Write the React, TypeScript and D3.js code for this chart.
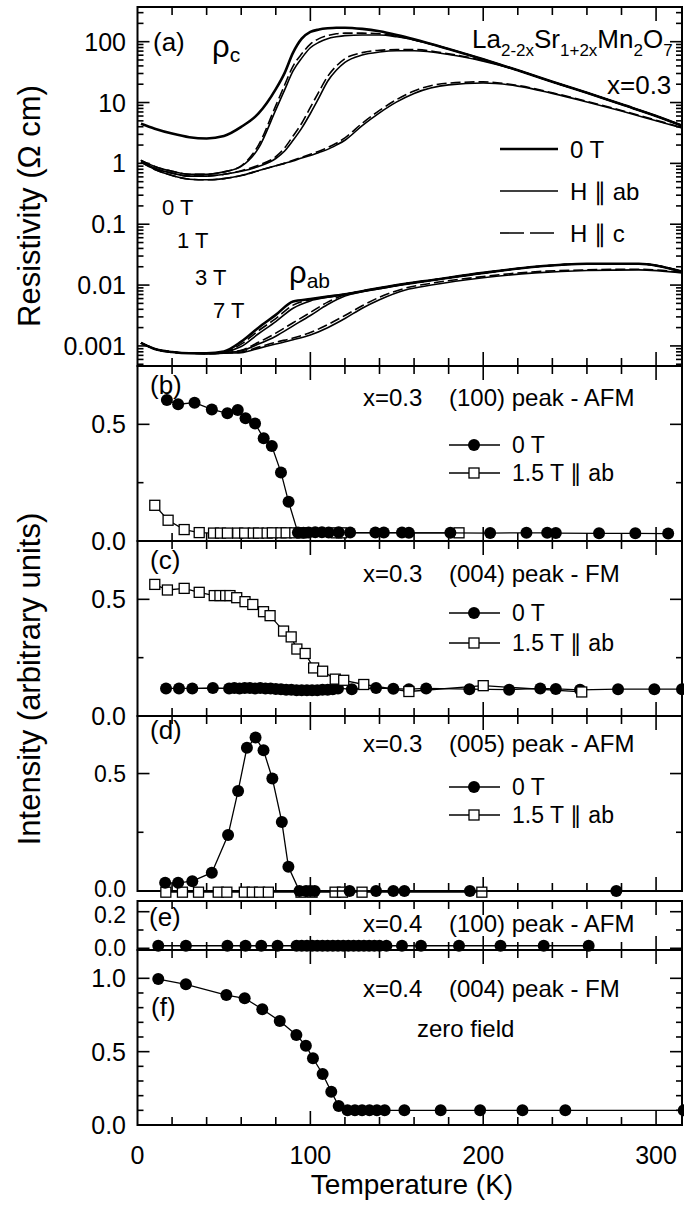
import React from "react";
import * as d3 from "d3";

// ---- data ----
// resistivity, rho_c, values are log10(rho / Ohm cm)
const tRhoC = [2, 10, 20, 30, 40, 50, 60, 70, 80, 85, 90, 95, 100, 105, 110, 115, 120, 130, 140, 150, 160, 180, 200, 220, 240, 260, 280, 300, 315];
const rhoC0T = [0.65, 0.57, 0.49, 0.43, 0.41, 0.45, 0.6, 0.82, 1.22, 1.48, 1.82, 2.05, 2.16, 2.2, 2.22, 2.23, 2.23, 2.21, 2.17, 2.11, 2.04, 1.88, 1.71, 1.53, 1.34, 1.16, 0.97, 0.78, 0.62];
const rhoC1Tab = [0.05, -0.05, -0.13, -0.18, -0.18, -0.14, -0.05, 0.25, 0.88, 1.2, 1.52, 1.73, 1.9, 1.99, 2.05, 2.08, 2.1, 2.11, 2.11, 2.08, 2.03, 1.88, 1.71, 1.53, 1.34, 1.16, 0.97, 0.78, 0.62];
const rhoC1Tc = [0.05, -0.05, -0.13, -0.18, -0.18, -0.14, -0.04, 0.3, 0.95, 1.28, 1.6, 1.8, 1.96, 2.05, 2.1, 2.13, 2.14, 2.14, 2.13, 2.09, 2.03, 1.88, 1.71, 1.53, 1.34, 1.16, 0.97, 0.78, 0.62];
const rhoC3Tab = [0.05, -0.08, -0.16, -0.21, -0.21, -0.18, -0.13, -0.05, 0.08, 0.2, 0.38, 0.58, 0.82, 1.08, 1.35, 1.53, 1.66, 1.78, 1.83, 1.85, 1.85, 1.79, 1.68, 1.53, 1.34, 1.16, 0.97, 0.78, 0.62];
const rhoC3Tc = [0.05, -0.08, -0.16, -0.21, -0.21, -0.18, -0.12, -0.03, 0.11, 0.25, 0.45, 0.66, 0.92, 1.18, 1.43, 1.6, 1.72, 1.82, 1.86, 1.87, 1.87, 1.8, 1.69, 1.53, 1.34, 1.16, 0.97, 0.78, 0.62];
const rhoC7Tab = [0.02, -0.1, -0.2, -0.26, -0.27, -0.25, -0.2, -0.12, -0.04, 0, 0.04, 0.09, 0.13, 0.18, 0.23, 0.3, 0.38, 0.62, 0.83, 1.01, 1.15, 1.29, 1.32, 1.27, 1.15, 1.01, 0.86, 0.7, 0.58];
const rhoC7Tc = [0.02, -0.1, -0.2, -0.26, -0.27, -0.25, -0.2, -0.12, -0.04, 0, 0.05, 0.1, 0.15, 0.2, 0.26, 0.33, 0.42, 0.66, 0.87, 1.05, 1.19, 1.32, 1.34, 1.28, 1.16, 1.02, 0.87, 0.71, 0.59];

// resistivity, rho_ab, log10(rho / Ohm cm)
const tRhoAb = [2, 10, 20, 30, 40, 50, 60, 70, 80, 90, 100, 110, 120, 130, 140, 155, 170, 200, 230, 260, 290, 315];
const rhoAb0T = [-2.95, -3.05, -3.1, -3.12, -3.12, -3.09, -2.93, -2.7, -2.49, -2.27, -2.23, -2.19, -2.15, -2.1, -2.05, -1.98, -1.92, -1.8, -1.7, -1.65, -1.65, -1.78];
const rhoAb1Tab = [-2.95, -3.05, -3.1, -3.12, -3.12, -3.1, -3.01, -2.8, -2.6, -2.38, -2.26, -2.2, -2.15, -2.1, -2.05, -1.98, -1.92, -1.8, -1.7, -1.65, -1.65, -1.78];
const rhoAb1Tc = [-2.95, -3.05, -3.1, -3.12, -3.12, -3.1, -2.97, -2.75, -2.55, -2.33, -2.24, -2.19, -2.15, -2.1, -2.05, -1.98, -1.92, -1.8, -1.7, -1.65, -1.65, -1.78];
const rhoAb3Tab = [-2.95, -3.05, -3.1, -3.12, -3.12, -3.11, -3.08, -2.97, -2.84, -2.67, -2.5, -2.32, -2.18, -2.11, -2.06, -1.98, -1.92, -1.8, -1.7, -1.65, -1.65, -1.78];
const rhoAb3Tc = [-2.95, -3.05, -3.1, -3.12, -3.12, -3.11, -3.07, -2.94, -2.79, -2.62, -2.45, -2.28, -2.16, -2.1, -2.05, -1.98, -1.92, -1.8, -1.7, -1.65, -1.65, -1.78];
const rhoAb7Tab = [-2.95, -3.05, -3.1, -3.12, -3.13, -3.12, -3.11, -3.04, -2.97, -2.9, -2.82, -2.7, -2.55, -2.38, -2.24, -2.08, -2.0, -1.88, -1.8, -1.76, -1.75, -1.8];
const rhoAb7Tc = [-2.95, -3.05, -3.1, -3.12, -3.13, -3.12, -3.1, -3.02, -2.94, -2.87, -2.78, -2.65, -2.5, -2.34, -2.2, -2.05, -1.97, -1.86, -1.78, -1.75, -1.74, -1.79];

// (b) x=0.3 (100) AFM
const tB0T = [17, 23.5, 33, 43, 52, 58, 62.5, 68, 73, 77.7, 83, 87.4, 92.8, 96, 99, 102.8, 106.7, 110.6, 116.4, 123, 137.6, 142.5, 153, 157, 181, 204, 225, 237, 242, 267, 288, 307];
const iB0T = [0.604, 0.586, 0.593, 0.564, 0.547, 0.561, 0.526, 0.504, 0.44, 0.407, 0.294, 0.168, 0.036, 0.035, 0.036, 0.037, 0.038, 0.036, 0.037, 0.036, 0.036, 0.036, 0.036, 0.035, 0.035, 0.034, 0.035, 0.035, 0.034, 0.033, 0.033, 0.032];
const tB15T = [10, 17.7, 27, 35.7, 44, 48, 52, 58, 62, 67, 70, 75, 78, 83, 86, 91, 95, 115, 118, 186];
const iB15T = [0.153, 0.089, 0.049, 0.036, 0.034, 0.034, 0.034, 0.034, 0.034, 0.034, 0.034, 0.034, 0.035, 0.035, 0.035, 0.035, 0.035, 0.035, 0.035, 0.035];

// (c) x=0.3 (004) FM
const tC0T = [16.5, 24, 31.7, 43.6, 53, 56, 59, 62, 65, 68, 71, 74, 77, 80, 83, 86, 89, 92, 95, 98, 101, 104, 107, 110, 113, 116, 124, 138, 148, 157, 167, 192, 215, 233, 242, 256, 278, 299, 315];
const iC0T = [0.118, 0.118, 0.118, 0.12, 0.118, 0.12, 0.118, 0.12, 0.12, 0.118, 0.12, 0.118, 0.118, 0.116, 0.115, 0.113, 0.112, 0.11, 0.11, 0.11, 0.11, 0.11, 0.112, 0.113, 0.115, 0.118, 0.115, 0.12, 0.117, 0.115, 0.118, 0.115, 0.113, 0.118, 0.116, 0.112, 0.115, 0.115, 0.115];
const tC15T = [10, 17.3, 27, 35.7, 44.4, 47.7, 51, 53.5, 57.4, 62.2, 66.7, 72.9, 76.7, 84.5, 88.9, 92.2, 97, 101.9, 107.1, 114.4, 119.3, 130.9, 157, 200, 257];
const iC15T = [0.564, 0.54, 0.547, 0.53, 0.516, 0.516, 0.516, 0.516, 0.507, 0.49, 0.478, 0.447, 0.43, 0.364, 0.339, 0.287, 0.268, 0.206, 0.192, 0.158, 0.153, 0.135, 0.105, 0.13, 0.103];

// (d) x=0.3 (005) AFM
const tD0T = [16, 23.5, 31.7, 43, 52.4, 58.2, 63.3, 68.3, 72.9, 78, 83.5, 87.3, 93.7, 97.5, 100, 102.5, 122.7, 138, 148, 154.4, 192.3, 277];
const iD0T = [0.035, 0.035, 0.042, 0.078, 0.238, 0.426, 0.61, 0.653, 0.599, 0.479, 0.294, 0.103, 0.0, 0.0, 0.0, 0.0, 0.0, 0.0, 0.0, 0.0, 0.0, 0.0];
const tD15T = [16.4, 26, 35.3, 46.7, 51.7, 61.8, 66.4, 70.6, 75.7, 94.6, 101, 114.3, 118.6, 129.9, 199.2];
const iD15T = [-0.005, -0.005, -0.005, -0.005, -0.005, -0.005, -0.005, -0.005, -0.005, -0.005, -0.005, -0.005, -0.005, -0.005, -0.005];

// (e) x=0.4 (100) AFM
const tE = [12, 28, 52, 62.5, 71.6, 81, 92, 95, 98, 101, 104, 107, 110, 113, 116, 119, 122, 125, 128, 131, 134, 137, 140, 144, 153, 164, 186, 210, 235, 261];
const iE = [0.014, 0.014, 0.014, 0.014, 0.014, 0.014, 0.014, 0.014, 0.014, 0.014, 0.014, 0.014, 0.014, 0.014, 0.014, 0.014, 0.014, 0.014, 0.014, 0.014, 0.014, 0.014, 0.014, 0.014, 0.014, 0.014, 0.014, 0.014, 0.014, 0.014];

// (f) x=0.4 (004) FM
const tF = [12, 28, 51.4, 62, 72.2, 82.3, 91.9, 97.4, 101.5, 107.1, 112.1, 116.4, 121.5, 125.8, 129.9, 134.2, 138.5, 143, 154.4, 175.4, 198.2, 222.7, 247.5, 316];
const iF = [0.995, 0.959, 0.886, 0.864, 0.789, 0.709, 0.613, 0.541, 0.455, 0.348, 0.227, 0.13, 0.1, 0.1, 0.1, 0.1, 0.1, 0.1, 0.1, 0.1, 0.1, 0.1, 0.1, 0.1];

// tick labels
const xTickLabels = [0, 100, 200, 300];
const rhoTickValues = [0.001, 0.01, 0.1, 1, 10, 100];
const rhoTickLabels = ["0.001", "0.01", "0.1", "1", "10", "100"];

// ---- layout ----
const W = 684;
const H = 1205;
const X0 = 137.5;
const X1 = 682;
const font = "'Liberation Sans', Arial, Helvetica, sans-serif";

const x = d3.scaleLinear().domain([0, 315]).range([X0, X1]);
const yA = d3.scaleLog().domain([Math.pow(10, -3.33), Math.pow(10, 2.57)]).range([366, 7]);

type Pt = [number, number];
const zip = (t: number[], v: number[]): Pt[] => t.map((d, i) => [d, v[i]]);

// labelNudge shifts crowded tick labels where panels (d) and (e) meet
const panels = [
  { id: "b", top: 366, bottom: 541, domain: [0, 0.75], major: [0, 0.5], minor: [0.25], nudge: {} as Record<string, number> },
  { id: "c", top: 541, bottom: 716, domain: [0, 0.75], major: [0, 0.5], minor: [0.25], nudge: {} as Record<string, number> },
  { id: "d", top: 716, bottom: 891, domain: [0, 0.745], major: [0, 0.5], minor: [0.25], nudge: { "0": -2 } as Record<string, number> },
  { id: "e", top: 901, bottom: 950, domain: [-0.0093, 0.2585], major: [0, 0.2], minor: [0.1], nudge: { "0.2": 3 } as Record<string, number> },
  { id: "f", top: 950, bottom: 1125, domain: [0, 1.193], major: [0, 0.5, 1.0], minor: [0.1, 0.2, 0.3, 0.4, 0.6, 0.7, 0.8, 0.9], nudge: {} as Record<string, number> },
];

const yScale = (p: any) => d3.scaleLinear().domain(p.domain).range([p.bottom, p.top]);

const rhoLine = d3.line<Pt>().x(d => x(d[0])).y(d => yA(Math.pow(10, d[1]))).curve(d3.curveMonotoneX);

function XTicks({ top, bottom }: { top: number; bottom: number }) {
  const ticks = d3.range(20, 315, 20);
  return (
    <g stroke="#000" strokeWidth={1.6}>
      {ticks.map(t => {
        const len = t % 100 === 0 ? 14 : 8;
        return (
          <g key={t}>
            <line x1={x(t)} x2={x(t)} y1={top} y2={top + len} />
            <line x1={x(t)} x2={x(t)} y1={bottom} y2={bottom - len} />
          </g>
        );
      })}
    </g>
  );
}

function YTicks({ y, major, minor }: { y: (v: number) => number; major: number[]; minor: number[] }) {
  return (
    <g stroke="#000" strokeWidth={1.6}>
      {major.map(v => (
        <g key={"M" + v}>
          <line x1={X0} x2={X0 + 12} y1={y(v)} y2={y(v)} />
          <line x1={X1} x2={X1 - 12} y1={y(v)} y2={y(v)} />
        </g>
      ))}
      {minor.map(v => (
        <g key={"m" + v}>
          <line x1={X0} x2={X0 + 6} y1={y(v)} y2={y(v)} />
          <line x1={X1} x2={X1 - 6} y1={y(v)} y2={y(v)} />
        </g>
      ))}
    </g>
  );
}

function Circles({ pts, y }: { pts: Pt[]; y: (v: number) => number }) {
  return (
    <g fill="#000">
      {pts.map((d, i) => (
        <circle key={i} cx={x(d[0])} cy={y(d[1])} r={6} />
      ))}
    </g>
  );
}

function Squares({ pts, y }: { pts: Pt[]; y: (v: number) => number }) {
  return (
    <g fill="#fff" stroke="#000" strokeWidth={1.3}>
      {pts.map((d, i) => (
        <rect key={i} x={x(d[0]) - 5} y={y(d[1]) - 5} width={10} height={10} />
      ))}
    </g>
  );
}

function Series({ pts, y, kind }: { pts: Pt[]; y: (v: number) => number; kind: "c" | "s" }) {
  const line = d3.line<Pt>().x(d => x(d[0])).y(d => y(d[1]));
  return (
    <g>
      <path d={line(pts) || ""} fill="none" stroke="#000" strokeWidth={1.3} />
      {kind === "c" ? <Circles pts={pts} y={y} /> : <Squares pts={pts} y={y} />}
    </g>
  );
}

function MarkerLegend({ yTop, yBot }: { yTop: number; yBot: number }) {
  return (
    <g fontFamily={font} fontSize={23}>
      <line x1={449} x2={500} y1={yTop} y2={yTop} stroke="#000" strokeWidth={1.5} />
      <circle cx={474} cy={yTop} r={6} fill="#000" />
      <text x={512} y={yTop} dominantBaseline="central">0 T</text>
      <line x1={449} x2={500} y1={yBot} y2={yBot} stroke="#000" strokeWidth={1.5} />
      <rect x={469} y={yBot - 5} width={10} height={10} fill="#fff" stroke="#000" strokeWidth={1.3} />
      <text x={512} y={yBot} dominantBaseline="central">1.5 T ∥ ab</text>
    </g>
  );
}

function Title({ y, xs, peak }: { y: number; xs: string; peak: string }) {
  return (
    <g fontFamily={font} fontSize={24}>
      <text x={363} y={y} dominantBaseline="central">{xs}</text>
      <text x={449} y={y} dominantBaseline="central">{peak}</text>
    </g>
  );
}

export default function App() {
  const [yb, yc, yd, ye, yf] = panels.map(p => yScale(p));
  const logMinor: number[] = [];
  for (let e = -4; e <= 2; e++) {
    for (let m = 2; m <= 9; m++) {
      const v = m * Math.pow(10, e);
      if (v > yA.domain()[0] && v < yA.domain()[1]) logMinor.push(v);
    }
  }
  const rhoCurves: { t: number[]; v: number[]; kind: string }[] = [
    { t: tRhoC, v: rhoC7Tc, kind: "c" },
    { t: tRhoC, v: rhoC7Tab, kind: "ab" },
    { t: tRhoC, v: rhoC3Tc, kind: "c" },
    { t: tRhoC, v: rhoC3Tab, kind: "ab" },
    { t: tRhoC, v: rhoC1Tc, kind: "c" },
    { t: tRhoC, v: rhoC1Tab, kind: "ab" },
    { t: tRhoC, v: rhoC0T, kind: "0" },
    { t: tRhoAb, v: rhoAb7Tc, kind: "c" },
    { t: tRhoAb, v: rhoAb7Tab, kind: "ab" },
    { t: tRhoAb, v: rhoAb3Tc, kind: "c" },
    { t: tRhoAb, v: rhoAb3Tab, kind: "ab" },
    { t: tRhoAb, v: rhoAb1Tc, kind: "c" },
    { t: tRhoAb, v: rhoAb1Tab, kind: "ab" },
    { t: tRhoAb, v: rhoAb0T, kind: "0" },
  ];
  const style = (k: string) =>
    k === "0"
      ? { strokeWidth: 2.6 }
      : k === "ab"
      ? { strokeWidth: 1.6 }
      : { strokeWidth: 1.6, strokeDasharray: "10,4" };

  return (
    <svg
      width={W}
      height={H}
      viewBox={`0 0 ${W} ${H}`}
      style={{ position: "absolute", left: 0, top: 0, background: "#fff" }}
      fontFamily={font}
    >
      <defs>
        <clipPath id="clipA">
          <rect x={X0} y={7} width={X1 - X0} height={359} />
        </clipPath>
      </defs>
      <rect x={0} y={0} width={W} height={H} fill="#fff" />

      {/* (a) resistivity */}
      <g clipPath="url(#clipA)">
        {rhoCurves.map((c, i) => (
          <path key={i} d={rhoLine(zip(c.t, c.v)) || ""} fill="none" stroke="#000" {...style(c.kind)} />
        ))}
      </g>
      <rect x={X0} y={7} width={X1 - X0} height={359} fill="none" stroke="#000" strokeWidth={2} />
      <XTicks top={7} bottom={366} />
      <YTicks y={yA} major={rhoTickValues} minor={logMinor} />
      <g fontSize={25} textAnchor="end">
        {rhoTickValues.map((v, i) => (
          <text key={v} x={126} y={yA(v)} dominantBaseline="central">{rhoTickLabels[i]}</text>
        ))}
      </g>
      <text x={153} y={42} fontSize={26} dominantBaseline="central">(a)</text>
      <text x={212} y={57} fontSize={31}>ρ<tspan fontSize={21} dy={5}>c</tspan></text>
      <text x={289} y={283} fontSize={31}>ρ<tspan fontSize={21} dy={5}>ab</tspan></text>
      <text x={472} y={48} fontSize={26}>
        La<tspan fontSize={17} dy={8}>2-2x</tspan>
        <tspan dy={-8}>Sr</tspan>
        <tspan fontSize={17} dy={8}>1+2x</tspan>
        <tspan dy={-8}>Mn</tspan>
        <tspan fontSize={17} dy={8}>2</tspan>
        <tspan dy={-8}>O</tspan>
        <tspan fontSize={17} dy={8}>7</tspan>
      </text>
      <text x={607} y={94} fontSize={26}>x=0.3</text>
      <g fontSize={22} dominantBaseline="central">
        <text x={162} y={207}>0 T</text>
        <text x={177} y={240}>1 T</text>
        <text x={195} y={277}>3 T</text>
        <text x={213} y={310}>7 T</text>
      </g>
      <g stroke="#000">
        <line x1={500} x2={558} y1={149} y2={149} strokeWidth={2.6} />
        <line x1={500} x2={558} y1={191} y2={191} strokeWidth={1.6} />
        <line x1={500} x2={558} y1={233} y2={233} strokeWidth={1.6} strokeDasharray="24,6" />
      </g>
      <g fontSize={24} dominantBaseline="central">
        <text x={570} y={149}>0 T</text>
        <text x={570} y={191}>H ∥ ab</text>
        <text x={570} y={233}>H ∥ c</text>
      </g>

      {/* neutron panels */}
      {panels.map((p, i) => {
        const y = [yb, yc, yd, ye, yf][i];
        return (
          <g key={p.id}>
            <rect x={X0} y={p.top} width={X1 - X0} height={p.bottom - p.top} fill="none" stroke="#000" strokeWidth={2} />
            <XTicks top={p.top} bottom={p.bottom} />
            <YTicks y={y} major={p.major} minor={p.minor} />
            <g fontSize={p.id === "e" || p.id === "d" ? 23 : 25} textAnchor="end">
              {p.major.map(v => (
                <text key={v} x={126} y={y(v) + (p.nudge[String(v)] || 0)} dominantBaseline="central">{v.toFixed(1)}</text>
              ))}
            </g>
          </g>
        );
      })}

      {/* (b) */}
      <Series pts={zip(tB15T, iB15T)} y={yb} kind="s" />
      <Series pts={zip(tB0T, iB0T)} y={yb} kind="c" />
      <text x={150} y={385} fontSize={26} dominantBaseline="central">(b)</text>
      <Title y={397} xs="x=0.3" peak="(100) peak - AFM" />
      <MarkerLegend yTop={445} yBot={473} />

      {/* (c) */}
      <Series pts={zip(tC0T, iC0T)} y={yc} kind="c" />
      <Series pts={zip(tC15T, iC15T)} y={yc} kind="s" />
      <text x={150} y={560} fontSize={26} dominantBaseline="central">(c)</text>
      <Title y={573} xs="x=0.3" peak="(004) peak - FM" />
      <MarkerLegend yTop={613} yBot={643} />

      {/* (d) */}
      <Series pts={zip(tD15T, iD15T)} y={yd} kind="s" />
      <Series pts={zip(tD0T, iD0T)} y={yd} kind="c" />
      <text x={150} y={730} fontSize={26} dominantBaseline="central">(d)</text>
      <Title y={743} xs="x=0.3" peak="(005) peak - AFM" />
      <MarkerLegend yTop={787} yBot={815} />

      {/* (e) */}
      <Series pts={zip(tE, iE)} y={ye} kind="c" />
      <text x={149} y={917} fontSize={26} dominantBaseline="central">(e)</text>
      <Title y={923} xs="x=0.4" peak="(100) peak - AFM" />

      {/* (f) */}
      <Series pts={zip(tF, iF)} y={yf} kind="c" />
      <text x={151} y={1007} fontSize={26} dominantBaseline="central">(f)</text>
      <Title y={988} xs="x=0.4" peak="(004) peak - FM" />
      <text x={417} y={1028} fontSize={24} dominantBaseline="central">zero field</text>

      {/* x axis */}
      <g fontSize={25} textAnchor="middle">
        {xTickLabels.map(t => (
          <text key={t} x={x(t)} y={1155} dominantBaseline="central">{t}</text>
        ))}
      </g>
      <text x={412} y={1184} fontSize={28} textAnchor="middle" dominantBaseline="central">Temperature (K)</text>
      <text transform="translate(29,206) rotate(-90)" fontSize={31} textAnchor="middle" dominantBaseline="central">Resistivity (Ω cm)</text>
      <text transform="translate(29,679) rotate(-90)" fontSize={31} textAnchor="middle" dominantBaseline="central">Intensity (arbitrary units)</text>
    </svg>
  );
}
